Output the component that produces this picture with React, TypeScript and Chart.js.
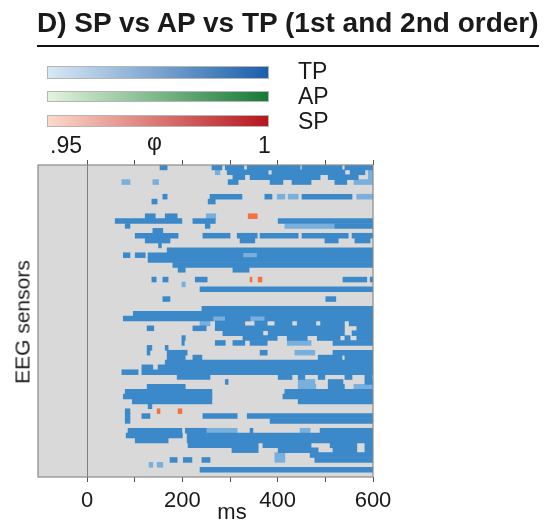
import { useEffect, useRef } from 'react';
import { Chart, registerables } from 'chart.js';

Chart.register(...registerables);

type Seg = [number, number];

// One category per EEG sensor, top to bottom.
const sensorLabels: string[] = Array.from({ length: 64 }, (_, i) => `E${i + 1}`);

// Time axis (ms)
const timeMin = -103;
const timeMax = 600;
const tickValues = [0, 100, 200, 300, 400, 500, 600];
const labeledTicks = [0, 200, 400, 600];

// TP significant intervals [start, end] in ms, one list per sensor row.
const tpStrong: Seg[][] = [
  [[153, 168], [262, 283], [290, 329], [336, 447], [451, 535], [541, 600]],
  [[294, 380], [388, 541], [552, 583]],
  [[306, 331], [342, 489], [506, 569]],
  [[296, 317], [384, 411], [430, 470], [520, 545]],
  [],
  [],
  [[159, 168], [258, 325], [373, 388], [451, 556]],
  [[136, 147], [254, 269]],
  [],
  [],
  [[122, 143], [164, 189]],
  [[59, 199], [222, 269], [401, 600]],
  [[80, 90], [248, 258], [520, 600]],
  [[138, 159]],
  [[101, 191], [243, 300], [315, 357], [363, 443], [451, 548], [556, 600]],
  [[122, 174], [321, 352], [499, 527], [562, 594]],
  [[150, 156]],
  [[168, 600]],
  [[76, 90], [101, 122], [128, 327], [357, 600]],
  [[128, 600]],
  [[180, 600]],
  [[191, 206], [306, 340]],
  [],
  [[136, 145], [159, 170], [227, 252], [537, 587], [594, 600]],
  [],
  [[237, 600]],
  [],
  [[159, 174], [501, 522]],
  [],
  [[241, 600]],
  [[97, 600]],
  [[76, 264], [290, 342], [373, 600]],
  [[269, 331], [352, 378], [394, 430], [441, 480], [490, 540], [550, 600]],
  [[126, 140], [222, 250], [269, 540], [566, 600]],
  [[285, 369], [380, 540], [556, 600]],
  [[199, 206], [327, 399], [420, 462], [483, 531], [541, 552], [566, 600]],
  [[199, 204], [269, 290], [306, 331], [342, 378], [516, 600]],
  [[126, 136], [164, 170]],
  [[126, 132], [168, 210], [363, 378], [516, 600]],
  [[168, 206], [222, 241], [485, 535], [541, 600]],
  [[164, 600]],
  [[115, 138], [149, 600]],
  [[73, 107], [115, 600]],
  [[189, 258], [401, 430], [443, 457], [485, 499], [541, 556], [583, 598]],
  [[290, 296], [506, 537], [583, 600]],
  [[126, 206], [506, 540]],
  [[80, 262], [415, 600]],
  [[76, 262], [411, 600]],
  [[95, 262], [443, 600]],
  [[128, 136]],
  [[80, 90]],
  [[80, 90], [115, 132], [243, 315], [336, 600]],
  [[80, 90], [384, 600]],
  [],
  [[86, 199], [206, 250], [342, 348], [489, 600]],
  [[82, 200], [210, 600]],
  [[101, 170], [210, 600]],
  [[212, 359], [369, 470], [510, 566], [583, 600]],
  [[304, 359], [401, 485], [516, 566], [583, 600]],
  [[468, 600]],
  [[174, 189], [202, 220], [241, 258], [478, 600]],
  [],
  [[237, 600]],
  [],
];

// Weaker TP cells (φ closer to .95): [row, start, end]
const tpFaint: [number, number, number][] = [
  [1, 269, 279], [1, 590, 600], [2, 590, 600],
  [3, 73, 90], [3, 138, 150], [3, 560, 600],
  [6, 399, 415], [6, 422, 443], [6, 566, 600],
  [10, 250, 270], [12, 415, 520], [18, 327, 357],
  [24, 199, 206], [31, 264, 290], [31, 342, 373],
  [32, 237, 258], [36, 420, 470], [38, 436, 478],
  [44, 443, 478], [45, 443, 480], [45, 560, 600],
  [54, 250, 315], [54, 447, 468], [59, 394, 415], [60, 394, 415],
  [61, 130, 138], [61, 147, 159],
];

// SP cells: [row, start, end]
const spCells: [number, number, number][] = [
  [10, 338, 357], [23, 342, 346], [23, 359, 367], [50, 147, 153], [50, 191, 199],
];

const FONT = "'Liberation Sans', Arial, sans-serif";

const rowsToBars = (rows: Seg[][]) =>
  rows.flatMap((segs, i) => segs.map(([s, e]) => ({ x: [s, e], y: sensorLabels[i] })));
const cellsToBars = (cells: [number, number, number][]) =>
  cells.map(([r, s, e]) => ({ x: [s, e], y: sensorLabels[r] }));

const plotFrame = {
  id: 'plotFrame',
  beforeDraw(chart: any) {
    const { ctx, chartArea } = chart;
    const { left, top, right, bottom } = chartArea;
    ctx.save();
    ctx.fillStyle = '#d9d9d9';
    ctx.fillRect(left, top, right - left, bottom - top);
    ctx.restore();
  },
  beforeDatasetsDraw(chart: any) {
    const { ctx, chartArea } = chart;
    const x0 = Math.round(chart.scales.x.getPixelForValue(0)) + 0.5;
    ctx.save();
    ctx.strokeStyle = '#7d7d7d';
    ctx.lineWidth = 1;
    ctx.beginPath();
    ctx.moveTo(x0, chartArea.top);
    ctx.lineTo(x0, chartArea.bottom);
    ctx.stroke();
    ctx.restore();
  },
  afterDraw(chart: any) {
    const { ctx, chartArea } = chart;
    const { left, top, right, bottom } = chartArea;
    ctx.save();
    ctx.strokeStyle = '#8a8a8a';
    ctx.lineWidth = 1.2;
    ctx.strokeRect(left, top, right - left, bottom - top);
    ctx.restore();
  },
};

const setTicks = (axis: any) => {
  axis.ticks = tickValues.map((v) => ({ value: v }));
};

function RasterChart() {
  const ref = useRef<HTMLCanvasElement | null>(null);

  useEffect(() => {
    if (!ref.current) return;
    const barOpts = {
      borderWidth: 0,
      grouped: false,
      categoryPercentage: 1,
      barPercentage: 1,
    };
    const chart = new Chart(ref.current, {
      type: 'bar',
      data: {
        labels: sensorLabels,
        datasets: [
          { label: 'TP', data: rowsToBars(tpStrong) as any, backgroundColor: '#3b89c9', ...barOpts },
          { label: 'TP weak', data: cellsToBars(tpFaint) as any, backgroundColor: '#78afdc', ...barOpts },
          { label: 'SP', data: cellsToBars(spCells) as any, backgroundColor: '#f3713f', ...barOpts },
        ],
      },
      options: {
        indexAxis: 'y',
        responsive: false,
        animation: false,
        devicePixelRatio: 1,
        layout: { padding: { left: 38, right: 172, top: 160, bottom: 1.6 } },
        plugins: { legend: { display: false }, tooltip: { enabled: false } },
        scales: {
          y: { type: 'category', display: false, offset: true },
          x: {
            type: 'linear',
            position: 'bottom',
            min: timeMin,
            max: timeMax,
            afterBuildTicks: setTicks,
            border: { display: false },
            grid: { drawOnChartArea: false, drawTicks: true, tickLength: 5, color: '#555' },
            ticks: {
              autoSkip: false,
              maxRotation: 0,
              padding: 6,
              color: '#1a1a1a',
              font: { family: FONT, size: 22 },
              callback: (v: any) => (labeledTicks.includes(Number(v)) ? String(v) : ''),
            },
          },
          x2: {
            type: 'linear',
            position: 'top',
            min: timeMin,
            max: timeMax,
            afterBuildTicks: setTicks,
            border: { display: false },
            grid: { drawOnChartArea: false, drawTicks: true, tickLength: 5, color: '#555' },
            ticks: { display: false },
          },
        },
      } as any,
      plugins: [plotFrame],
    });
    return () => chart.destroy();
  }, []);

  return (
    <canvas
      ref={ref}
      width={545}
      height={522}
      style={{ position: 'absolute', left: 0, top: 0, width: 545, height: 522 }}
    />
  );
}

const text = (extra: any) => ({
  position: 'absolute' as const,
  fontFamily: FONT,
  color: '#1a1a1a',
  whiteSpace: 'nowrap' as const,
  ...extra,
});

const bar = (top: number, height: number, from: string, to: string) => ({
  position: 'absolute' as const,
  left: 47,
  top,
  width: 222,
  height,
  boxSizing: 'border-box' as const,
  border: '1px solid #b5b5b5',
  background: `linear-gradient(to right, ${from}, ${to})`,
});

export default function App() {
  return (
    <div style={{ position: 'absolute', left: 0, top: 0, width: 545, height: 522, background: '#fff', overflow: 'hidden' }}>
      <RasterChart />
      <div
        style={text({
          left: 37,
          top: 9,
          fontSize: 28,
          lineHeight: '28px',
          fontWeight: 'bold',
          paddingBottom: 8,
          borderBottom: '2.5px solid #111',
        })}
      >
        D) SP vs AP vs TP (1st and 2nd order)
      </div>

      <div style={bar(66, 13, '#d9e8f5', '#1b5fab')} />
      <div style={bar(91, 11, '#e3f3dd', '#157a36')} />
      <div style={bar(115, 12, '#fdd9ca', '#b5161e')} />
      <div style={text({ left: 298, top: 60, fontSize: 23, lineHeight: '23px' })}>TP</div>
      <div style={text({ left: 298, top: 85, fontSize: 23, lineHeight: '23px' })}>AP</div>
      <div style={text({ left: 298, top: 110, fontSize: 23, lineHeight: '23px' })}>SP</div>
      <div style={text({ left: 50, top: 134, fontSize: 23, lineHeight: '23px' })}>.95</div>
      <div style={text({ left: 147, top: 131, fontSize: 23, lineHeight: '23px' })}>φ</div>
      <div style={text({ left: 258, top: 134, fontSize: 23, lineHeight: '23px' })}>1</div>

      <div
        style={text({
          left: 22,
          top: 322,
          fontSize: 21,
          lineHeight: '21px',
          transform: 'translate(-50%, -50%) rotate(-90deg)',
        })}
      >
        EEG sensors
      </div>
      <div style={text({ left: 232, top: 501, fontSize: 22, lineHeight: '22px', transform: 'translateX(-50%)' })}>ms</div>
    </div>
  );
}
